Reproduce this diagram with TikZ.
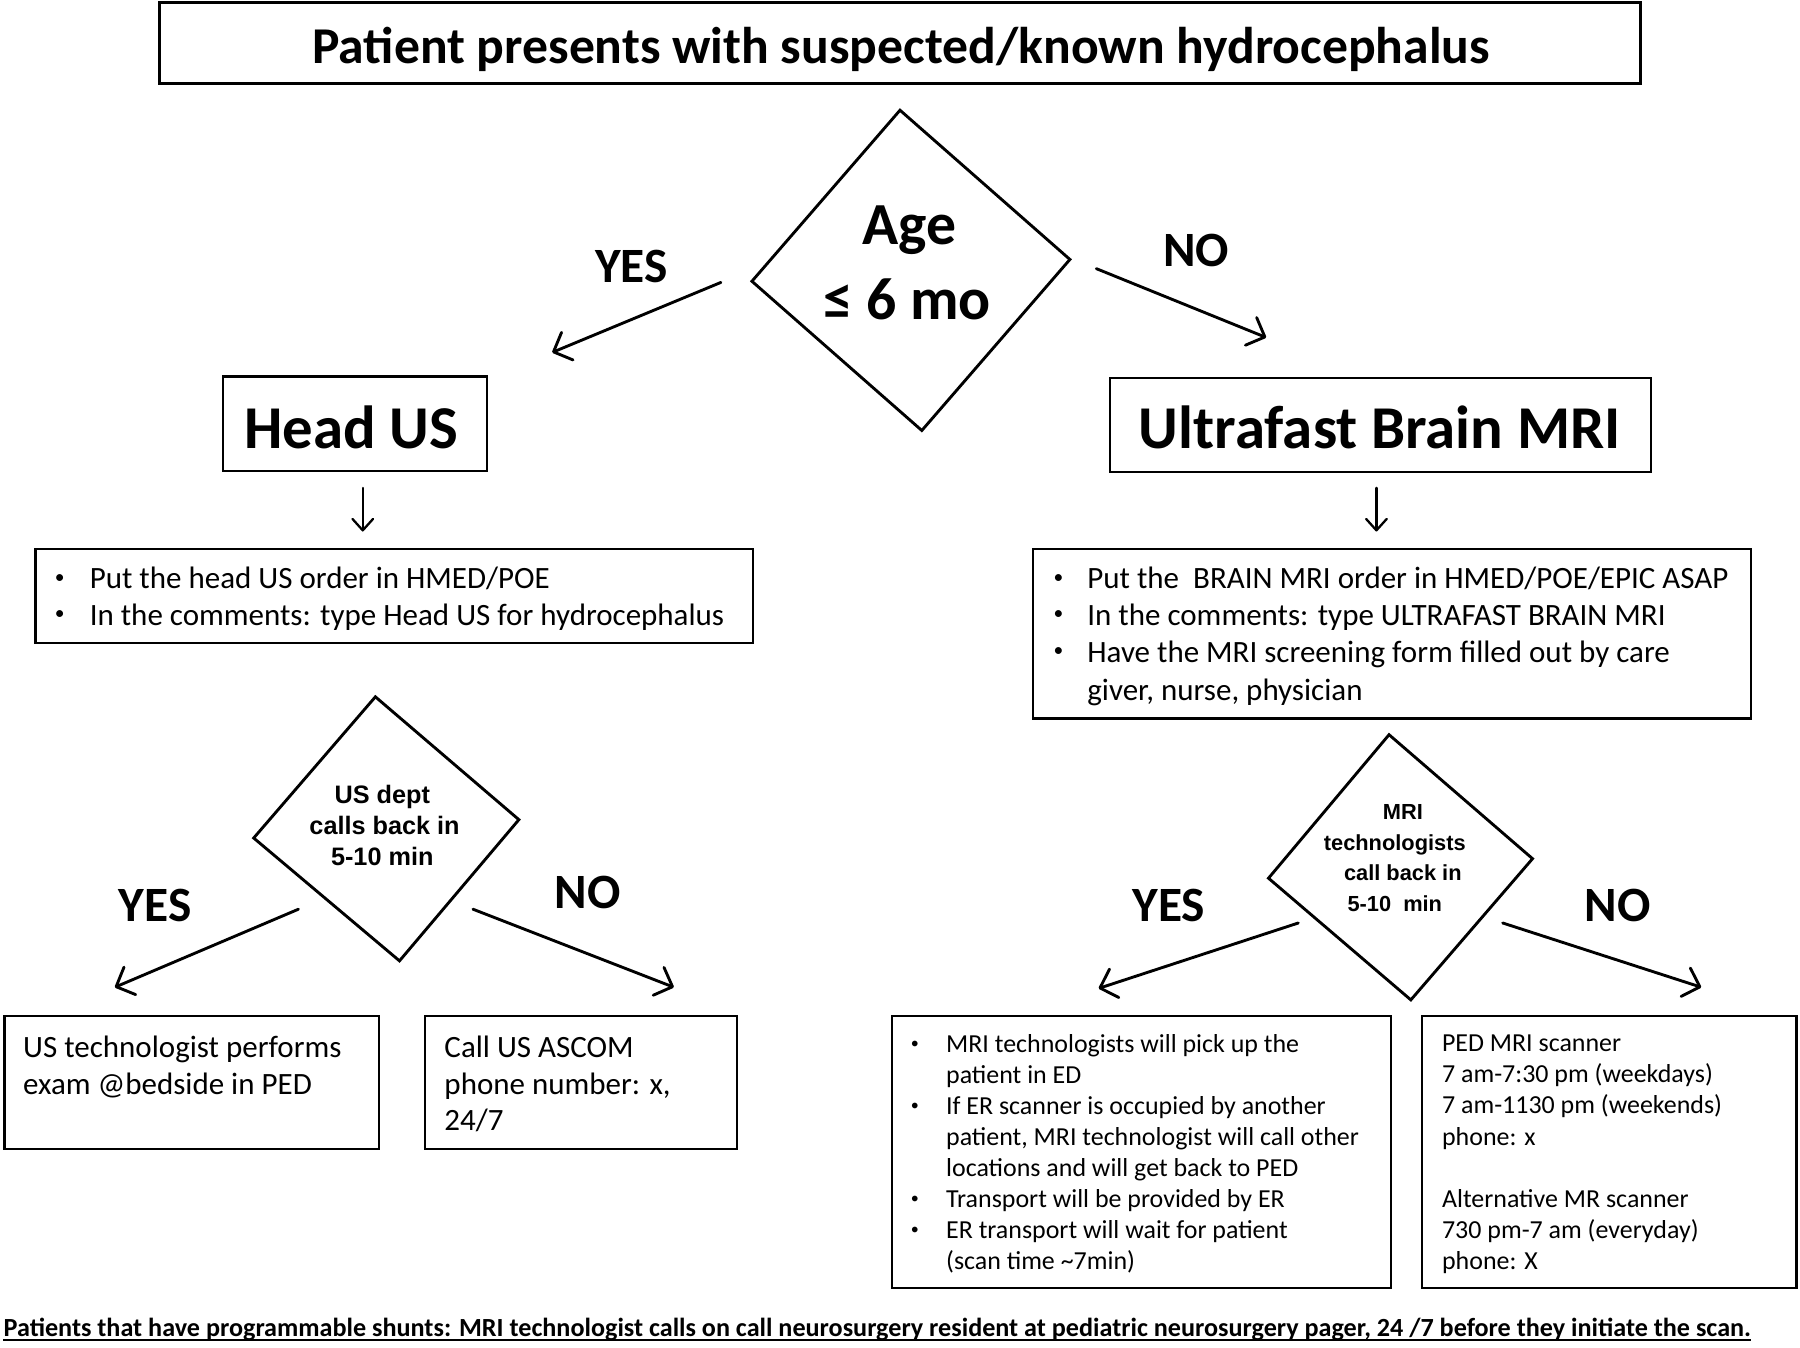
\documentclass[tikz,border=0pt]{standalone}
\usepackage{fontspec}
\setmainfont{Carlito}
\newfontfamily\arialf{Liberation Sans}
\usetikzlibrary{arrows.meta}
\newcommand\fsz[2]{\fontsize{#1}{#2}\selectfont}
\begin{document}
\begin{tikzpicture}[x=1pt,y=-1pt,
  box/.style={draw, line width=2pt, inner sep=0pt},
  tb/.style={anchor=base, inner sep=0pt},
  tl/.style={anchor=base west, inner sep=0pt},
  big/.style={font=\bfseries\fsz{53}{60}},
  lbl/.style={tb, font=\bfseries\fsz{43}{50}},
  body/.style={tl, font=\fsz{27}{32}},
  small/.style={tl, font=\fsz{22.6}{27}},
  bul/.style={anchor=center, inner sep=0pt, font=\fsz{17}{20}},
  sbul/.style={anchor=center, inner sep=0pt, font=\fsz{14}{16}},
  arr/.style={-{Straight Barb[length=13pt,width=26pt,round]}, line width=2.5pt, line cap=round},
  darr/.style={-{Straight Barb[length=10pt,width=18pt,round]}, line width=2pt, line cap=round},
  dia/.style={draw, line width=2.5pt, line join=miter}
]
\useasboundingbox[fill=white] (0,0) rectangle (1568,1173.4);

% title
\node[box, line width=2.5pt, minimum width=1290pt, minimum height=71pt] (titlebox) at (784,37.5) {};
\node[tb, font=\bfseries\fsz{45}{54}] (title) at (785,55) {Patient presents with suspected/known hydrocephalus};

% main diamond
\coordinate (d1t) at (784,96);
\coordinate (d1r) at (932,226);
\coordinate (d1b) at (803,375);
\coordinate (d1l) at (655,245);
\draw[dia] (d1t) -- (d1r) -- (d1b) -- (d1l) -- cycle;
\node[tb, font=\bfseries\fsz{52}{60}] (age1) at (792,213) {Age};
\node[tb, font=\bfseries\fsz{52}{60}] (age2) at (790,278) {≤ 6 mo};

\node[lbl] (yes1) at (550,246) {YES};
\node[lbl] (no1) at (1042,232.5) {NO};
\coordinate (a1s) at (628,246);
\coordinate (a1e) at (481,307);
\coordinate (a2s) at (955,234);
\coordinate (a2e) at (1103,294);
\draw[arr] (a1s) -- (a1e);
\draw[arr] (a2s) -- (a2e);

% Head US / MRI boxes
\node[box, minimum width=230pt, minimum height=82pt] (husbox) at (309,369) {};
\node[tb, big] (hus) at (306,391) {Head US};
\node[box, minimum width=471pt, minimum height=82pt] (mribox) at (1202.5,370) {};
\node[tb, big] (mri) at (1202,391) {Ultrafast Brain MRI};

\coordinate (h1s) at (316,425);
\coordinate (h1e) at (316,463);
\coordinate (m1s) at (1199,425);
\coordinate (m1e) at (1199,463);
\draw[darr] (h1s) -- (h1e);
\draw[darr] (m1s) -- (m1e);

% US instructions
\node[box, minimum width=625pt, minimum height=82pt] (usin) at (343.5,519) {};
\node[bul] (usb1) at (52,504) {•};
\node[body] (ust1) at (78,513) {Put the head US order in HMED/POE};
\node[bul] (usb2) at (52,536) {•};
\node[body] (ust2) at (78,545) {In the comments: type Head US for hydrocephalus};

% MRI instructions
\node[box, minimum width=625pt, minimum height=148pt] (mrin) at (1212.5,552) {};
\node[bul] (mrb1) at (922,504) {•};
\node[body] (mrt1) at (947,513) {Put the\ \ BRAIN MRI order in HMED/POE/EPIC ASAP};
\node[bul] (mrb2) at (922,536) {•};
\node[body] (mrt2) at (947,545) {In the comments: type ULTRAFAST BRAIN MRI};
\node[bul] (mrb3) at (922,568) {•};
\node[body] (mrt3) at (947,577) {Have the MRI screening form filled out by care};
\node[body] (mrt4) at (947,610) {giver, nurse, physician};

% US dept diamond
\coordinate (d2t) at (327,607);
\coordinate (d2r) at (452,714);
\coordinate (d2b) at (348,837);
\coordinate (d2l) at (221,730);
\draw[dia] (d2t) -- (d2r) -- (d2b) -- (d2l) -- cycle;
\node[tb, font=\arialf\bfseries\fsz{22}{27}] (usd1) at (333,700) {US dept};
\node[tb, font=\arialf\bfseries\fsz{22}{27}] (usd2) at (335,727) {calls back in};
\node[tb, font=\arialf\bfseries\fsz{22}{27}] (usd3) at (333,754) {5-10 min};

% MRI diamond
\coordinate (d3t) at (1210,640);
\coordinate (d3r) at (1335,748);
\coordinate (d3b) at (1229,871);
\coordinate (d3l) at (1105,765);
\draw[dia] (d3t) -- (d3r) -- (d3b) -- (d3l) -- cycle;
\node[tb, font=\arialf\bfseries\fsz{19}{27}] (mrd1) at (1222,714) {MRI};
\node[tb, font=\arialf\bfseries\fsz{19}{27}] (mrd2) at (1215,741) {technologists};
\node[tb, font=\arialf\bfseries\fsz{19}{27}] (mrd3) at (1222,767) {call back in};
\node[tb, font=\arialf\bfseries\fsz{19}{27}] (mrd4) at (1215,794) {5-10\ \ min};

% lower labels
\node[lbl] (yes2) at (135,803) {YES};
\node[lbl] (no2) at (512,791.5) {NO};
\node[lbl] (yes3) at (1018,803) {YES};
\node[lbl] (no3) at (1409,803) {NO};

\coordinate (b1s) at (260,792);
\coordinate (b1e) at (100,860);
\coordinate (b2s) at (412,792);
\coordinate (b2e) at (587,860);
\coordinate (b3s) at (1131,804);
\coordinate (b3e) at (957,861);
\coordinate (b4s) at (1309,804);
\coordinate (b4e) at (1482,860);
\draw[arr] (b1s) -- (b1e);
\draw[arr] (b2s) -- (b2e);
\draw[arr] (b3s) -- (b3e);
\draw[arr] (b4s) -- (b4e);

% bottom boxes
\node[box, minimum width=326pt, minimum height=116pt] (ustech) at (167,943) {};
\node[body] (ustt1) at (20,921) {US technologist performs};
\node[body] (ustt2) at (20,953) {exam @bedside in PED};

\node[box, minimum width=272pt, minimum height=116pt] (ascom) at (506,943) {};
\node[body] (asc1) at (387,921) {Call US ASCOM};
\node[body] (asc2) at (387,953) {phone number: x,};
\node[body] (asc3) at (387,985) {24/7};

\node[box, minimum width=435pt, minimum height=237pt] (mtech) at (994.5,1003.5) {};
\node[sbul] (mtb1) at (797,910) {•};
\node[small] (mtt1) at (824,917) {MRI technologists will pick up the};
\node[small] (mtt2) at (824,944) {patient in ED};
\node[sbul] (mtb2) at (797,964) {•};
\node[small] (mtt3) at (824,971) {If ER scanner is occupied by another};
\node[small] (mtt4) at (824,998) {patient, MRI technologist will call other};
\node[small] (mtt5) at (824,1025) {locations and will get back to PED};
\node[sbul] (mtb3) at (797,1045) {•};
\node[small] (mtt6) at (824,1052) {Transport will be provided by ER};
\node[sbul] (mtb4) at (797,1072) {•};
\node[small] (mtt7) at (824,1079) {ER transport will wait for patient};
\node[small] (mtt8) at (824,1106) {(scan time \textasciitilde7min)};

\node[box, minimum width=326pt, minimum height=237pt] (ped) at (1402,1003.5) {};
\node[small] (pd1) at (1256,916) {PED MRI scanner};
\node[small] (pd2) at (1256,943) {7 am-7:30 pm (weekdays)};
\node[small] (pd3) at (1256,970) {7 am-1130 pm (weekends)};
\node[small] (pd4) at (1256,998) {phone: x};
\node[small] (pd5) at (1256,1052) {Alternative MR scanner};
\node[small] (pd6) at (1256,1079) {730 pm-7 am (everyday)};
\node[small] (pd7) at (1256,1106) {phone: X};

% footer
\node[tl, font=\bfseries\fsz{20.5}{24}] (foot) at (3,1164) {\resizebox{1522pt}{!}{Patients that have programmable shunts: MRI technologist calls on call neurosurgery resident at pediatric neurosurgery pager, 24 /7 before they initiate the scan.}};
\draw[line width=1.8pt] ([yshift=-3.5pt]foot.base west) -- ([yshift=-3.5pt]foot.base east);
\end{tikzpicture}
\end{document}
